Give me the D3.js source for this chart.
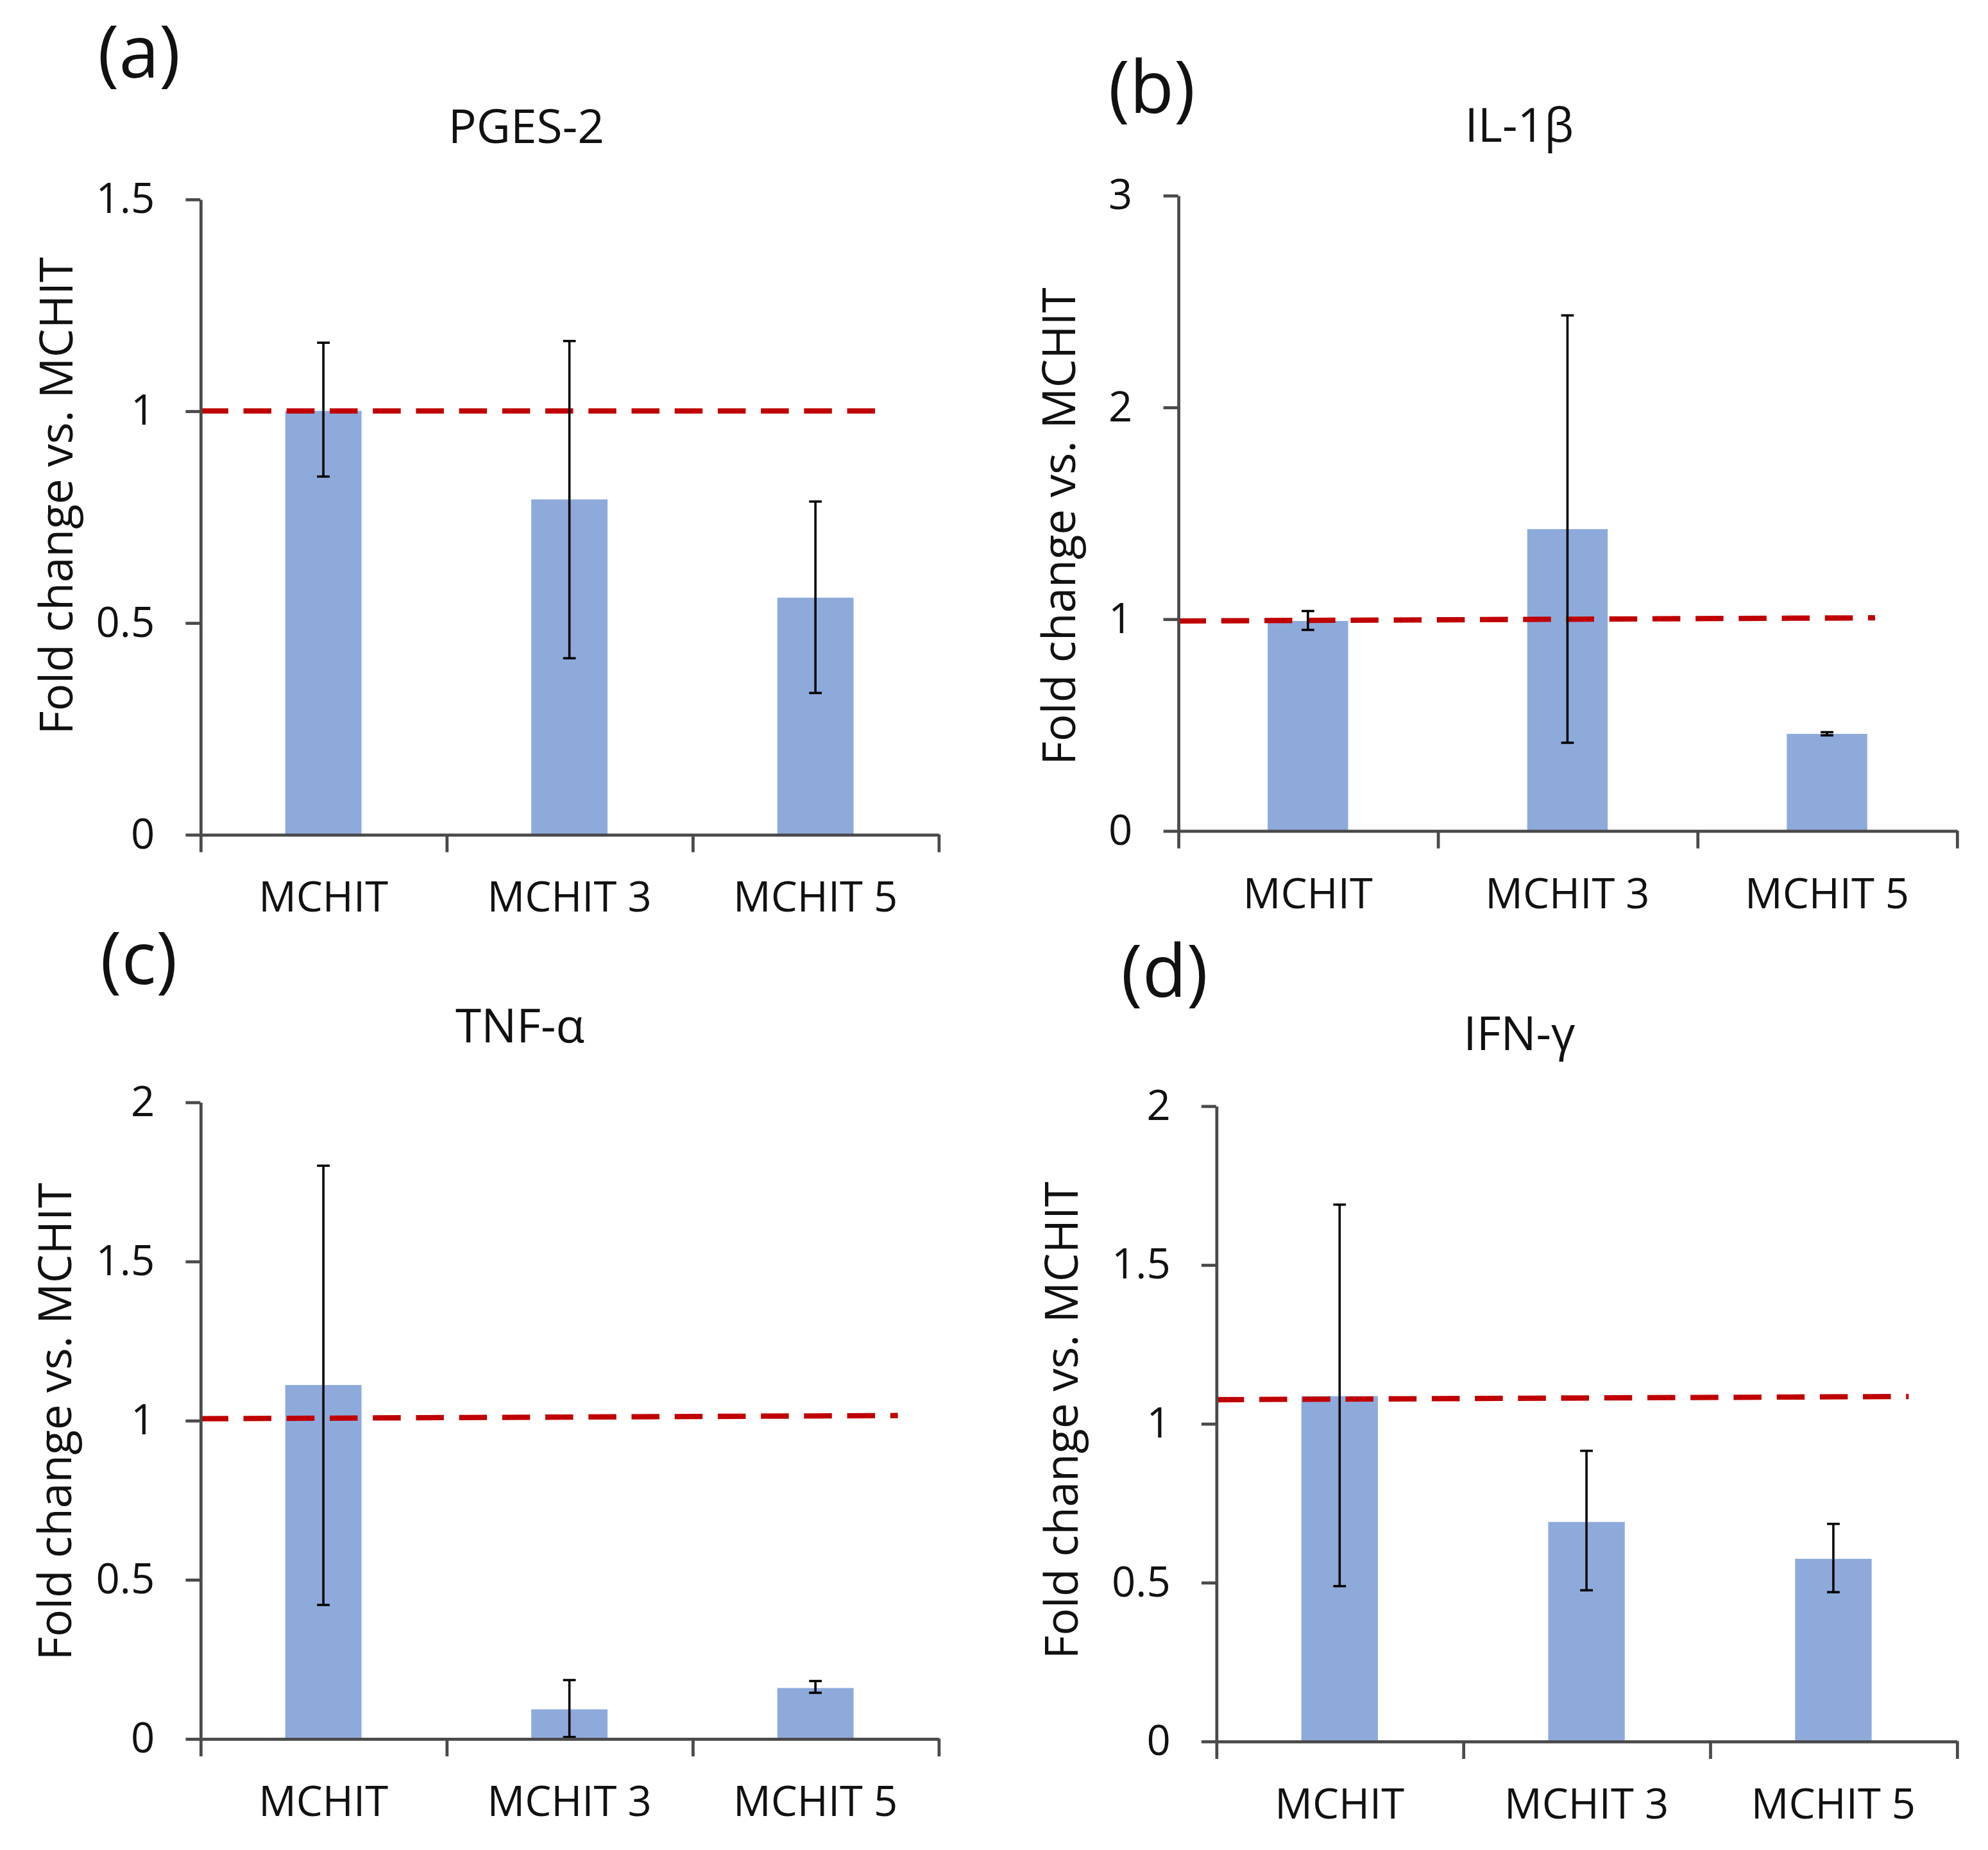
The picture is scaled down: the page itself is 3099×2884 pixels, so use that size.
<!DOCTYPE html>
<html>
<head>
<meta charset="utf-8">
<script src="https://cdn.jsdelivr.net/npm/d3@7"></script>
<style>
  body { margin: 0; background: #fff; }
  text { font-family: "Open Sans", "Liberation Sans", sans-serif; fill: #111; }
</style>
</head>
<body>
<div id="chart"></div>
<script>
// four small bar charts, fold change vs. MCHIT with error bars

var categories = ['MCHIT', 'MCHIT 3', 'MCHIT 5'];
var panelTags = ['(a)', '(b)', '(c)', '(d)'];
var panelTitles = ['PGES-2', 'IL-1β', 'TNF-α', 'IFN-γ'];
var yMax = [1.5, 3, 2, 2];
var yTicks = [
  [0, 0.5, 1, 1.5],
  [0, 1, 2, 3],
  [0, 0.5, 1, 1.5, 2],
  [0, 0.5, 1, 1.5, 2]
];
var means = [
  [1.0, 0.791, 0.559],
  [0.99, 1.424, 0.457],
  [1.111, 0.092, 0.159],
  [1.086, 0.69, 0.574]
];
var errLow = [
  [0.845, 0.416, 0.334],
  [0.948, 0.415, 0.45],
  [0.42, 0.005, 0.144],
  [0.488, 0.475, 0.469]
];
var errHigh = [
  [1.161, 1.165, 0.786],
  [1.037, 2.433, 0.465],
  [1.80, 0.184, 0.181],
  [1.689, 0.914, 0.684]
];
// dashed reference line, value at left and right end
var refLine = [
  [1.0, 1.0],
  [0.99, 1.005],
  [1.005, 1.015],
  [1.075, 1.085]
];
var yLabel = 'Fold change vs. MCHIT';

// layout, in a 1567.6 x 1458.8 frame scaled up to the page
var W = 3099, H = 2884;
var VW = 1567.6, VH = 1458.8;
var layout = [
  { x0: 158, x1: 740, yTop: 157, yBot: 658, tagX: 77, tagY: 61, titleX: 415, titleY: 113, labX: 57, labY: 391, refEnd: 0.915 },
  { x0: 929, x1: 1543, yTop: 154, yBot: 655, tagX: 874, tagY: 89, titleX: 1198, titleY: 112, labX: 848, labY: 415, refEnd: 0.895 },
  { x0: 158, x1: 740, yTop: 869, yBot: 1371, tagX: 79, tagY: 776, titleX: 410, titleY: 822, labX: 56, labY: 1121, refEnd: 0.945 },
  { x0: 959, x1: 1543, yTop: 872, yBot: 1373, tagX: 884, tagY: 786, titleX: 1198, titleY: 828, labX: 850, labY: 1120, refEnd: 0.935 }
];

var barColor = '#8eaadb',
    axisColor = '#4a4a4a',
    refColor = '#c00000';

var svg = d3.select('#chart').append('svg')
  .attr('width', W)
  .attr('height', H)
  .attr('viewBox', '0 0 ' + VW + ' ' + VH);

panelTitles.forEach(function(title, p) {
  var L = layout[p];
  var g = svg.append('g');

  var y = d3.scaleLinear().domain([0, yMax[p]]).range([L.yBot, L.yTop]);
  var x = d3.scaleBand().domain(categories).range([L.x0, L.x1]).padding(0);
  var xEdge = d3.scaleLinear().domain([0, categories.length]).range([L.x0, L.x1]);
  var barW = x.bandwidth() * 0.31;

  // bars
  g.selectAll('rect.bar')
    .data(categories)
    .enter().append('rect')
      .attr('class', 'bar')
      .attr('x', function(d) { return x(d) + x.bandwidth() / 2 - barW / 2; })
      .attr('width', barW)
      .attr('y', function(d, i) { return y(means[p][i]); })
      .attr('height', function(d, i) { return y(0) - y(means[p][i]); })
      .attr('fill', barColor);

  // dashed reference line
  g.append('line')
    .attr('x1', xEdge(0))
    .attr('x2', xEdge(categories.length * L.refEnd))
    .attr('y1', y(refLine[p][0]))
    .attr('y2', y(refLine[p][1]))
    .attr('stroke', refColor)
    .attr('stroke-width', 4.2)
    .attr('stroke-dasharray', '22,12');

  // error bars
  var eb = g.selectAll('g.err')
    .data(categories)
    .enter().append('g')
      .attr('class', 'err')
      .attr('stroke', '#000')
      .attr('stroke-width', 1.8);
  var cx = function(d) { return x(d) + x.bandwidth() / 2; };
  eb.append('line')
    .attr('x1', cx).attr('x2', cx)
    .attr('y1', function(d, i) { return y(errLow[p][i]); })
    .attr('y2', function(d, i) { return y(errHigh[p][i]); });
  eb.append('line')
    .attr('x1', function(d) { return cx(d) - 5; })
    .attr('x2', function(d) { return cx(d) + 5; })
    .attr('y1', function(d, i) { return y(errHigh[p][i]); })
    .attr('y2', function(d, i) { return y(errHigh[p][i]); });
  eb.append('line')
    .attr('x1', function(d) { return cx(d) - 5; })
    .attr('x2', function(d) { return cx(d) + 5; })
    .attr('y1', function(d, i) { return y(errLow[p][i]); })
    .attr('y2', function(d, i) { return y(errLow[p][i]); });

  // y axis
  var ya = g.append('g')
    .attr('transform', 'translate(' + L.x0 + ',0)')
    .call(d3.axisLeft(y).tickValues(yTicks[p]).tickSize(11.6).tickSizeOuter(0).tickPadding(24.4)
      .tickFormat(function(d) { return String(d); }));
  ya.selectAll('text').attr('font-size', 33).attr('font-family', null).attr('fill', '#111');

  // x axis: boundary ticks + category labels
  var xa = g.append('g')
    .attr('transform', 'translate(0,' + L.yBot + ')')
    .call(d3.axisBottom(xEdge).tickValues(d3.range(categories.length + 1)).tickSize(14).tickSizeOuter(0).tickFormat(''));
  var xl = g.append('g')
    .attr('transform', 'translate(0,' + L.yBot + ')')
    .call(d3.axisBottom(x).tickSize(0).tickPadding(37.6));
  xl.select('.domain').remove();
  xl.selectAll('text').attr('font-size', 33).attr('font-family', null).attr('fill', '#111');

  [ya, xa].forEach(function(a) {
    a.selectAll('.domain, .tick line')
      .attr('stroke', axisColor)
      .attr('stroke-width', 2.4);
  });

  // texts
  g.append('text')
    .attr('x', L.tagX).attr('y', L.tagY)
    .attr('font-size', 57)
    .text(panelTags[p]);
  g.append('text')
    .attr('x', L.titleX).attr('y', L.titleY)
    .attr('text-anchor', 'middle')
    .attr('font-size', 37)
    .text(title);
  g.append('text')
    .attr('transform', 'translate(' + L.labX + ',' + L.labY + ') rotate(-90)')
    .attr('text-anchor', 'middle')
    .attr('font-size', 36)
    .text(yLabel);
});
</script>
</body>
</html>
